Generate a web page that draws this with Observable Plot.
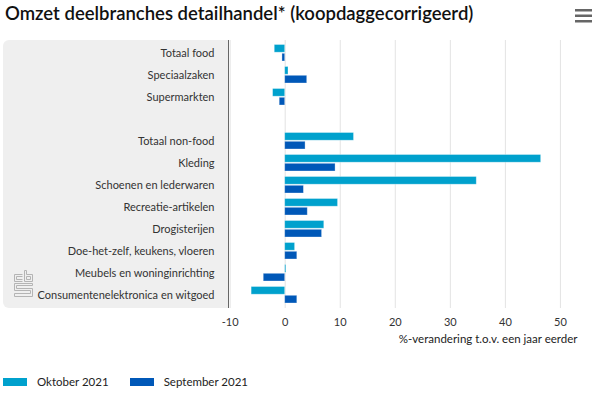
<!DOCTYPE html>
<html>
<head>
<meta charset="utf-8">
<script src="https://cdn.jsdelivr.net/npm/d3@7"></script>
<script src="https://cdn.jsdelivr.net/npm/@observablehq/plot@0.6"></script>
<style>
  html, body { margin: 0; padding: 0; background: #fff; }
  #wrap { position: relative; width: 600px; height: 393px; overflow: hidden; font-family: Lato, "Noto Sans", sans-serif; }
  #title { position: absolute; left: 5px; top: 2px; font-size: 18.5px; font-weight: 600; color: #111; white-space: nowrap; }
  #menu { position: absolute; left: 575px; top: 9px; }
  #box { position: absolute; left: 3px; top: 40px; width: 225px; height: 268px; background: #efefef; border-radius: 6px 0 0 6px; }
  #logo { position: absolute; left: 13px; top: 269px; }
  #chart { position: absolute; left: 0; top: 0; }
  #legend { position: absolute; left: 3px; top: 375px; font-size: 11.5px; color: #222; display: flex; align-items: center; }
  .sw { display: inline-block; width: 24px; height: 8px; margin-right: 10px; }
  .item { display: flex; align-items: center; margin-right: 21px; }
</style>
</head>
<body>
<div id="wrap">
  <div id="box"></div>
  <svg id="logo" width="21" height="30" viewBox="0 0 21 28" fill="none" stroke="#b4b4b4" stroke-width="1">
    <path d="M9.5,4.5 H1.5 V11.5 H9.5 M9.5,6.5 H3.5 V9.5 H9.5"/>
    <path d="M11.5,0.5 V11.5 H19.5 V4.5 H13.5 V0.5 Z M13.5,6.5 H17.5 V9.5 H13.5 Z"/>
    <path d="M19.5,13.5 H1.5 V20.5 H17.5 V23.5 H1.5 V26.5 H19.5 V18.5 H3.5 V15.5 H19.5 Z"/>
  </svg>
  <div id="chart"></div>
  <div id="title">Omzet deelbranches detailhandel* (koopdaggecorrigeerd)</div>
  <svg id="menu" width="17" height="14"><g fill="#666"><rect x="0" y="0" width="17" height="2.5"/><rect x="0" y="5.5" width="17" height="2.5"/><rect x="0" y="11" width="17" height="2.5"/></g></svg>
  <div id="legend"></div>
</div>
<script>
const categories = ["Totaal food","Speciaalzaken","Supermarkten"," ","Totaal non-food","Kleding","Schoenen en lederwaren","Recreatie-artikelen","Drogisterijen","Doe-het-zelf, keukens, vloeren","Meubels en woninginrichting","Consumentenelektronica en witgoed"];
const oktober2021 = [-1.9, 0.6, -2.2, null, 12.5, 46.5, 34.8, 9.6, 7.1, 1.8, 0.2, -6.1];
const september2021 = [-0.5, 4.0, -1.0, null, 3.7, 9.15, 3.4, 4.1, 6.7, 2.2, -3.9, 2.2];
const xTicks = [-10, 0, 10, 20, 30, 40, 50];
const seriesNames = ["Oktober 2021", "September 2021"];
const seriesColors = ["#00a1cd", "#0058b8"];
const xDomain = [-10.3, 53.1];
const axisTitle = "%-verandering t.o.v. een jaar eerder";

const okt = categories.map((c, i) => ({cat: c, v: oktober2021[i]})).filter(d => d.v != null);
const sep = categories.map((c, i) => ({cat: c, v: september2021[i]})).filter(d => d.v != null);

const chart = Plot.plot({
  width: 600,
  height: 360,
  marginTop: 40,
  marginBottom: 52,
  marginLeft: 228,
  marginRight: 23,
  style: {fontFamily: "Lato, 'Noto Sans', sans-serif", fontSize: "11px", color: "#333", background: "transparent"},
  x: {domain: xDomain, ticks: xTicks, tickSize: 0, tickPadding: 10, tickFormat: d => String(d), label: null},
  y: {domain: categories, padding: 0, tickSize: 0, tickPadding: 14, label: null},
  marks: [
    Plot.ruleX(xTicks.filter(t => t > xDomain[0]), {stroke: "#e3e3e3", strokeWidth: 1}),
    Plot.barX(okt, {x: "v", y: "cat", fill: seriesColors[0], insetTop: 2.5, insetBottom: 11.8, stroke: "#fff", strokeOpacity: 0.4, strokeWidth: 0.8}),
    Plot.barX(sep, {x: "v", y: "cat", fill: seriesColors[1], insetTop: 11.3, insetBottom: 3, stroke: "#fff", strokeOpacity: 0.4, strokeWidth: 0.8}),
    Plot.ruleX([xDomain[0]], {stroke: "#666", strokeWidth: 1}),
    Plot.text([axisTitle], {frameAnchor: "bottom-right", textAnchor: "end", dy: 34, fontSize: 11.5, fill: "#222"})
  ]
});
document.getElementById("chart").appendChild(chart);

const legend = document.getElementById("legend");
seriesNames.forEach((n, i) => {
  const it = document.createElement("div");
  it.className = "item";
  it.innerHTML = `<span class="sw" style="background:${seriesColors[i]}"></span><span>${n}</span>`;
  legend.appendChild(it);
});
</script>
</body>
</html>
